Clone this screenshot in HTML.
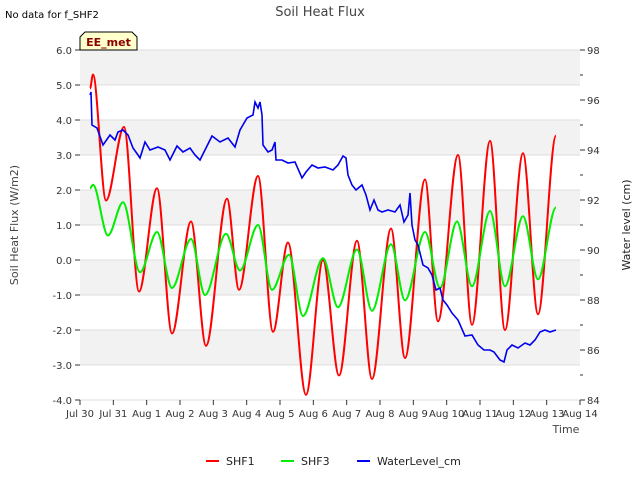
<!DOCTYPE html>
<html><head><meta charset="utf-8"><style>
body{margin:0;background:#fff;}
svg{display:block;font-family:"DejaVu Sans","Liberation Sans",sans-serif;}
</style></head><body>
<svg id="chart" width="640" height="480" viewBox="0 0 640 480">
<text x="5" y="18" font-size="10" fill="#000">No data for f_SHF2</text>
<text x="320" y="16" font-size="13" fill="#444" text-anchor="middle">Soil Heat Flux</text>
<g id="bands"></g>
<g id="grid"></g>
<g id="axes"></g>
<g id="series"></g>
<g>
<path d="M80,50 L80,37 L85,32 L132,32 L137,37 L137,50 Z" fill="#ffffcc" stroke="#000" stroke-width="1"/>
<text x="108.5" y="46" font-size="11" font-weight="bold" fill="#8b0000" text-anchor="middle">EE_met</text>
</g>
<text x="18" y="225" font-size="11" fill="#444" text-anchor="middle" transform="rotate(-90 18 225)">Soil Heat Flux (W/m2)</text>
<text x="630" y="225" font-size="11" fill="#222" text-anchor="middle" transform="rotate(-90 630 225)">Water level (cm)</text>
<text x="566" y="433" font-size="11" fill="#444" text-anchor="middle">Time</text>
<g>
<g><line x1="206" y1="461" x2="219" y2="461" stroke="#ff0000" stroke-width="2"/><text x="226" y="465" font-size="11" fill="#222">SHF1</text></g>
<g><line x1="281" y1="461" x2="294" y2="461" stroke="#00ee00" stroke-width="2"/><text x="301" y="465" font-size="11" fill="#222">SHF3</text></g>
<g><line x1="357" y1="461" x2="370" y2="461" stroke="#0000ee" stroke-width="2"/><text x="377" y="465" font-size="11" fill="#222">WaterLevel_cm</text></g>
</g>
</svg>
<script>
const xTickLabels=["Jul 30","Jul 31","Aug 1","Aug 2","Aug 3","Aug 4","Aug 5","Aug 6","Aug 7","Aug 8","Aug 9","Aug 10","Aug 11","Aug 12","Aug 13","Aug 14"];
const yTicks=[-4,-3,-2,-1,0,1,2,3,4,5,6];
const y2Ticks=[84,86,88,90,92,94,96,98];
const shf1T=[0.30,0.39,0.78,1.32,1.77,2.31,2.76,3.33,3.78,4.41,4.77,5.34,5.79,6.24,6.78,7.29,7.77,8.31,8.76,9.33,9.75,10.35,10.74,11.34,11.76,12.30,12.75,13.29,13.74,14.28];
const shf1V=[4.9,5.3,1.7,3.8,-0.9,2.05,-2.1,1.1,-2.45,1.75,-0.85,2.4,-2.05,0.5,-3.85,0.0,-3.3,0.55,-3.4,0.9,-2.8,2.3,-1.75,3.0,-1.85,3.4,-2.0,3.05,-1.55,3.55];
const shf3T=[0.30,0.39,0.84,1.29,1.80,2.31,2.76,3.33,3.75,4.38,4.80,5.34,5.76,6.27,6.69,7.29,7.74,8.31,8.76,9.33,9.75,10.35,10.80,11.31,11.76,12.30,12.75,13.29,13.74,14.28];
const shf3V=[2.05,2.15,0.7,1.65,-0.35,0.8,-0.8,0.6,-1.0,0.75,-0.3,1.0,-0.85,0.15,-1.6,0.05,-1.35,0.3,-1.45,0.45,-1.15,0.8,-0.8,1.1,-0.75,1.4,-0.75,1.25,-0.55,1.5];
const wlT=[0.30,0.33,0.36,0.51,0.69,0.90,1.05,1.14,1.29,1.44,1.59,1.74,1.80,1.95,2.10,2.34,2.55,2.70,2.91,3.09,3.30,3.45,3.60,3.75,3.96,4.20,4.44,4.65,4.80,5.01,5.19,5.25,5.34,5.40,5.46,5.49,5.64,5.76,5.85,5.88,6.06,6.24,6.45,6.66,6.78,6.96,7.14,7.35,7.59,7.74,7.89,7.98,8.04,8.16,8.28,8.46,8.58,8.70,8.82,8.94,9.06,9.24,9.45,9.60,9.72,9.84,9.90,9.96,10.05,10.14,10.29,10.44,10.56,10.68,10.80,10.89,11.01,11.16,11.34,11.55,11.76,11.94,12.12,12.30,12.42,12.60,12.72,12.81,12.96,13.14,13.35,13.50,13.65,13.80,13.95,14.10,14.28];
const wlV=[96.2,96.32,95.0,94.88,94.2,94.6,94.4,94.72,94.8,94.6,94.08,93.8,93.68,94.32,94.0,94.12,94.0,93.6,94.16,93.92,94.08,93.8,93.6,94.0,94.56,94.32,94.48,94.12,94.8,95.28,95.4,95.92,95.68,95.92,95.4,94.2,93.92,94.0,94.32,93.6,93.6,93.48,93.52,92.88,93.12,93.4,93.28,93.32,93.2,93.4,93.76,93.68,93.0,92.6,92.4,92.6,92.2,91.6,92.0,91.6,91.52,91.6,91.52,91.8,91.12,91.4,92.28,91.0,90.4,90.2,89.4,89.28,89.0,88.4,88.48,88.0,87.8,87.48,87.2,86.56,86.6,86.2,86.0,86.0,85.92,85.6,85.52,86.0,86.2,86.08,86.28,86.2,86.4,86.72,86.8,86.72,86.8];

const L=80,R=580,T=50,B=400;
const xs=t=>L+t*(R-L)/15;
const ys=v=>B-(v+4)*(B-T)/10;
const y2s=v=>B-(v-84)*(B-T)/14;
const NS="http://www.w3.org/2000/svg";
function mk(tag,attrs,parent){const e=document.createElementNS(NS,tag);for(const k in attrs)e.setAttribute(k,attrs[k]);parent.appendChild(e);return e;}
const bands=document.getElementById('bands'),grid=document.getElementById('grid'),axes=document.getElementById('axes'),series=document.getElementById('series');
mk('rect',{x:L,y:T,width:R-L,height:B-T,fill:'#ffffff'},bands);
[[5,6],[3,4],[1,2],[-1,0],[-3,-2]].forEach(b=>{mk('rect',{x:L,y:ys(b[1]),width:R-L,height:ys(b[0])-ys(b[1]),fill:'#f2f2f2'},bands);});
yTicks.forEach(v=>{
 mk('line',{x1:L,x2:R,y1:ys(v),y2:ys(v),stroke:'#dddddd','stroke-width':1},grid);
 mk('line',{x1:L-5,x2:L,y1:ys(v),y2:ys(v),stroke:'#333'},axes);
 const t=mk('text',{x:L-8,y:ys(v)+4,'font-size':10,'text-anchor':'end',fill:'#333'},axes);
 
 
 t.textContent=v.toFixed(1);
});
y2Ticks.forEach(v=>{
 mk('line',{x1:R,x2:R+5,y1:y2s(v),y2:y2s(v),stroke:'#333'},axes);
 if(v<98) mk('line',{x1:R,x2:R+3,y1:y2s(v+1),y2:y2s(v+1),stroke:'#333'},axes);
 const t=mk('text',{x:R+7,y:y2s(v)+4,'font-size':10,fill:'#333'},axes);
 
 
 t.textContent=v;
});
xTickLabels.forEach((s,i)=>{
 mk('line',{x1:xs(i),x2:xs(i),y1:B,y2:B+5,stroke:'#333'},axes);
 const t=mk('text',{x:xs(i),y:B+17,'font-size':10,'text-anchor':'middle',fill:'#333'},axes);
 
 
 t.textContent=s;
});
function smoothPath(pts){
 let d='M'+pts[0][0].toFixed(1)+','+pts[0][1].toFixed(1);
 for(let i=0;i<pts.length-1;i++){
  const p1=pts[i],p2=pts[i+1];
  const dx=(p2[0]-p1[0])/3;
  d+=' C'+(p1[0]+dx).toFixed(1)+','+p1[1].toFixed(1)+' '+(p2[0]-dx).toFixed(1)+','+p2[1].toFixed(1)+' '+p2[0].toFixed(1)+','+p2[1].toFixed(1);
 }
 return d;
}
const p1=mk('path',{d:smoothPath(shf1T.map((t,i)=>[xs(t),ys(shf1V[i])])),fill:'none',stroke:'#ff0000','stroke-width':2},series);


const p3=mk('path',{d:smoothPath(shf3T.map((t,i)=>[xs(t),ys(shf3V[i])])),fill:'none',stroke:'#00ee00','stroke-width':2},series);


const pw=mk('path',{d:'M'+wlT.map((t,i)=>xs(t).toFixed(1)+','+y2s(wlV[i]).toFixed(1)).join(' L'),fill:'none',stroke:'#0000ee','stroke-width':1.6},series);


</script>
</body></html>
